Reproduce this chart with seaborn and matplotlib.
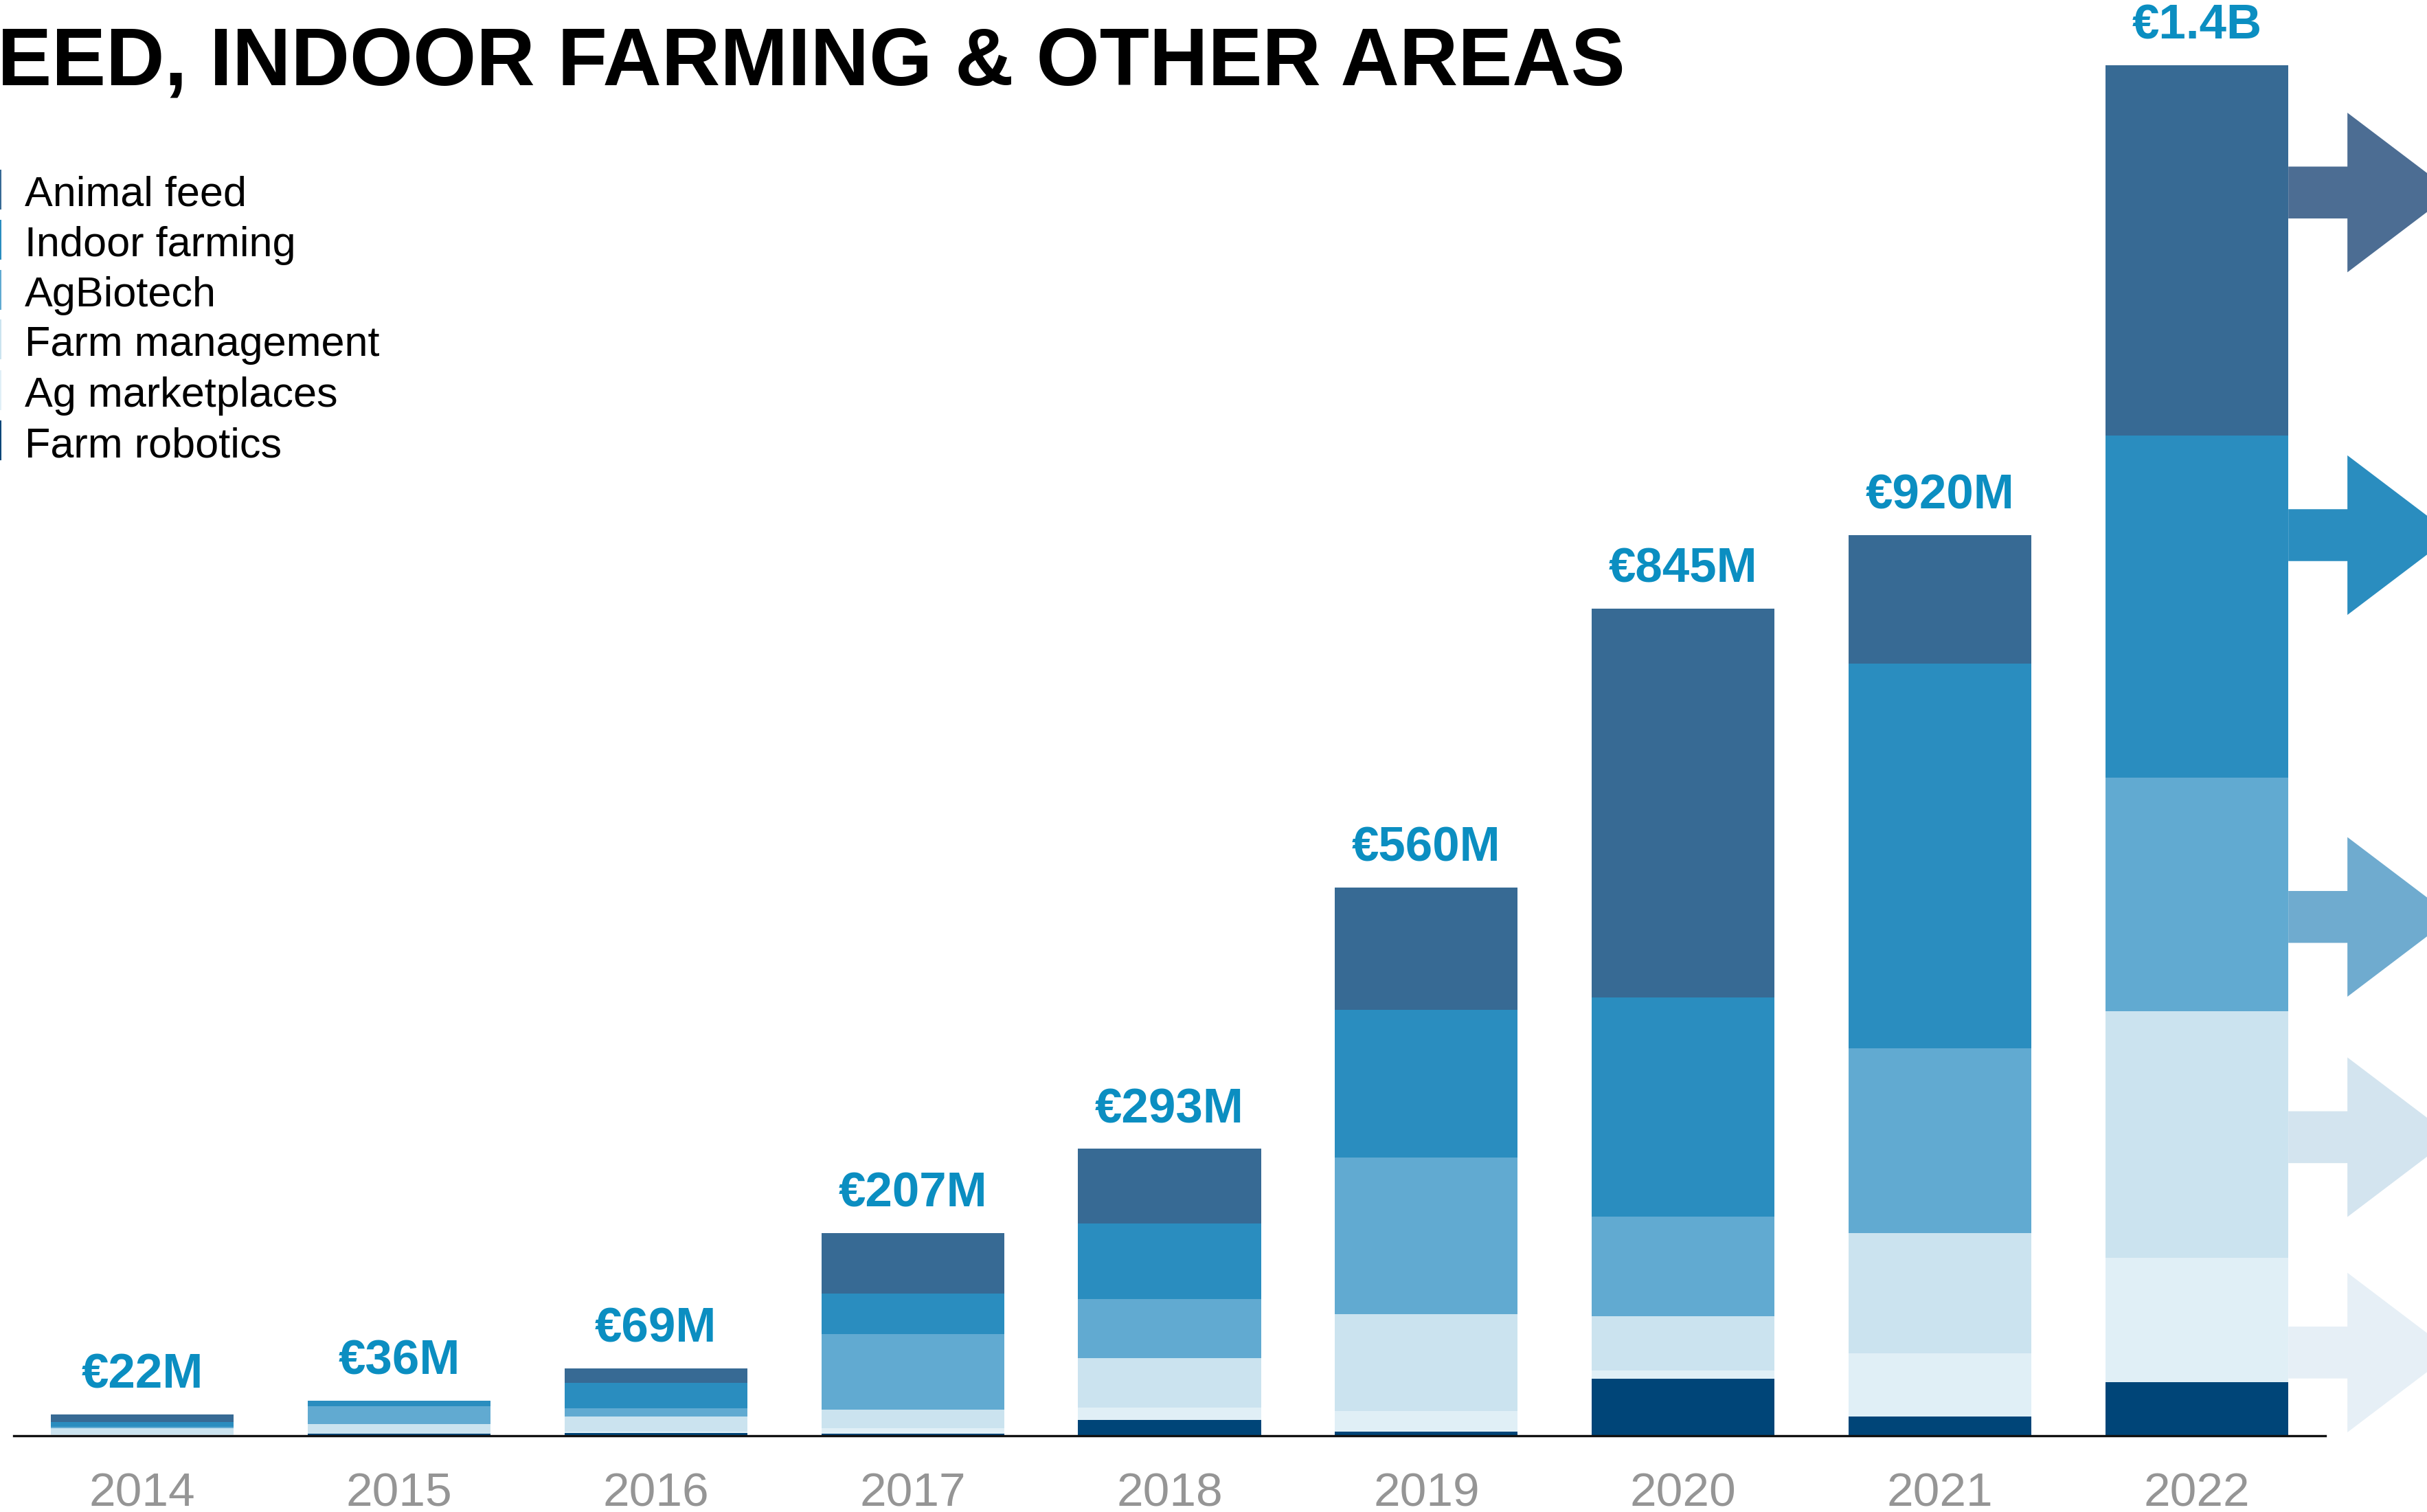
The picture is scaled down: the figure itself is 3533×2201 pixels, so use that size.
import matplotlib
matplotlib.use("Agg")
import matplotlib.pyplot as plt
from matplotlib.patches import Rectangle, FancyArrow
import numpy as np
import pandas as pd
import seaborn as sns

# ---- data (EUR millions) ----
years = ["2014", "2015", "2016", "2017", "2018", "2019", "2020", "2021", "2022"]
totals = [22, 36, 69, 207, 293, 560, 845, 920, 1400]
total_labels = ["€22M", "€36M", "€69M", "€207M", "€293M", "€560M", "€845M", "€920M", "€1.4B"]

farm_robotics = [0, 2, 3, 2, 16, 4, 58, 20, 55]
ag_marketplaces = [1.5, 0, 1, 6, 13, 21, 9, 64, 127]
farm_management = [6, 10, 16, 19, 50, 99, 55, 123, 252]
agbiotech = [1.5, 18, 8, 77, 61, 160, 102, 189, 238]
indoor_farming = [5, 6, 26, 41, 77, 151, 224, 393, 350]
animal_feed = [8, 0, 15, 62, 76, 125, 397, 131, 378]

# stacking order, bottom to top
segments = ["Farm robotics", "Ag marketplaces", "Farm management",
            "AgBiotech", "Indoor farming", "Animal feed"]
seg_values = [farm_robotics, ag_marketplaces, farm_management,
              agbiotech, indoor_farming, animal_feed]
seg_colors = ["#004578", "#E0EFF6", "#CBE3EF", "#61AAD1", "#2A8DBF", "#376A94"]

# arrows pointing out of the 2022 column (top to bottom)
arrow_levels = [1270, 920, 530, 305, 85]
arrow_colors = ["#4C6D93", "#2A8DBF", "#6FABCF", "#D3E4EF", "#E6EFF6"]

W, H = 3533, 2201
sns.set_theme(style="white")
plt.rcParams["font.family"] = ["Liberation Sans", "DejaVu Sans"]

fig = plt.figure(figsize=(W / 100, H / 100), dpi=100)
fig.patch.set_facecolor("white")

base_px = 2090
ax = fig.add_axes([20 / W, (H - base_px) / H, 3365 / W, base_px / H])
ax.set_facecolor("none")

df = pd.DataFrame({"year": years})
cum = np.zeros(len(years))
cums = []
for vals in seg_values:
    cum = cum + np.array(vals, dtype=float)
    cums.append(cum.copy())

# draw from the tallest cumulative layer down so the stacks show through
for name, c, color in reversed(list(zip(segments, cums, seg_colors))):
    df["value"] = c
    sns.barplot(data=df, x="year", y="value", color=color, width=0.712,
                saturation=1, linewidth=0, errorbar=None, ax=ax, zorder=2)

ax.set_xlim(-0.5, len(years) - 0.5)
ax.set_ylim(0, base_px / 1.425)
ax.set_xlabel("")
ax.set_ylabel("")
ax.set_yticks([])
for s in ["left", "right", "top"]:
    ax.spines[s].set_visible(False)
ax.spines["bottom"].set_color("#111111")
ax.spines["bottom"].set_linewidth(2.4)
ax.spines["bottom"].set_zorder(3)
ax.tick_params(axis="x", length=0, pad=38, labelsize=50, labelcolor="#959595")

# totals above the bars
for i, (t, lab) in enumerate(zip(totals, total_labels)):
    ax.annotate(lab, xy=(i, t), xytext=(0, 27.5), textcoords="offset points",
                ha="center", va="baseline", fontsize=51, fontweight="bold",
                color="#0B8EC1", annotation_clip=False)

# arrows leaving the last column
last = len(years) - 1
for lvl, col in zip(arrow_levels, arrow_colors):
    arr = FancyArrow(last + 0.356, lvl, 0.64, 0, width=53, head_width=163,
                     head_length=0.41, length_includes_head=True,
                     color=col, linewidth=0, clip_on=False, zorder=1)
    ax.add_patch(arr)

# title
fig.text(2366 / W, (H - 123) / H, "FEED, INDOOR FARMING & OTHER AREAS",
         ha="right", va="baseline", fontsize=85.2, fontweight="bold", color="black")

# legend, top to bottom
leg_baselines = [300, 373, 446, 518, 592, 665]
for name, color, yb in zip(reversed(segments), reversed(seg_colors), leg_baselines):
    fig.add_artist(Rectangle((0, (H - yb - 5) / H), 2 / W, 58 / H,
                             transform=fig.transFigure, color=color, linewidth=0))
    fig.text(36 / W, (H - yb) / H, name, ha="left", va="baseline",
             fontsize=44, color="black")

fig.savefig("out.png", dpi=100, facecolor="white")
